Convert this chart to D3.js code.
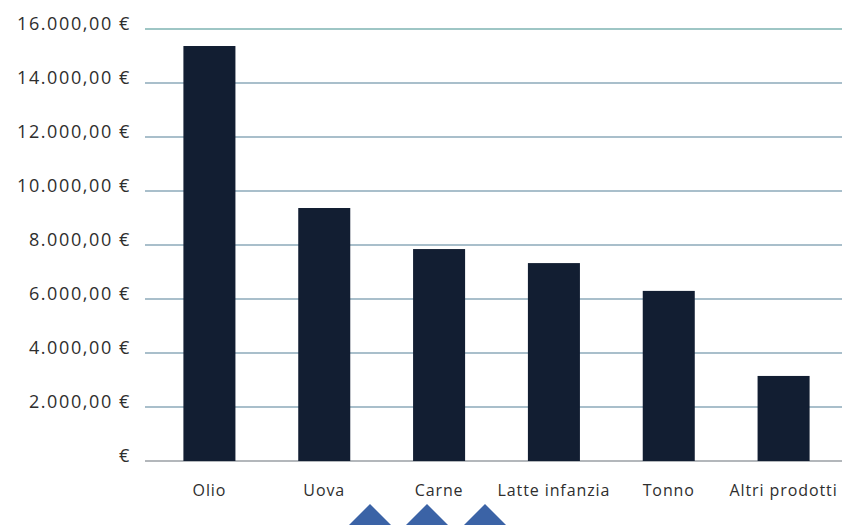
<!DOCTYPE html>
<html>
<head>
<meta charset="utf-8">
<script src="https://cdn.jsdelivr.net/npm/d3@7"></script>
<style>
  html, body { margin: 0; padding: 0; background: #fff; }
  svg { display: block; font-family: "Open Sans", sans-serif; }
</style>
</head>
<body>
<svg id="chart" width="842" height="525"></svg>
<script>
// Spending per product category (euro)
const categories = ["Olio", "Uova", "Carne", "Latte infanzia", "Tonno", "Altri prodotti"];
const values = [15370, 9370, 7850, 7330, 6300, 3150];
const yTicks = [0, 2000, 4000, 6000, 8000, 10000, 12000, 14000, 16000];
const yTickLabels = ["€", "2.000,00 €", "4.000,00 €", "6.000,00 €", "8.000,00 €",
  "10.000,00 €", "12.000,00 €", "14.000,00 €", "16.000,00 €"];
const markerCenters = [370, 427, 485];

const svg = d3.select("#chart");
const W = 842, H = 525;
const plot = { left: 145, right: 842, top: 29, bottom: 461 };

const x = d3.scaleBand()
  .domain(categories)
  .range([152, 841])
  .paddingInner(0.547)
  .paddingOuter(0.2735);

const y = d3.scaleLinear()
  .domain([0, 16000])
  .range([plot.bottom, plot.top]);

// gridlines
const gridColor = v => v === 0 ? "#b3b7bb" : (v === 16000 ? "#9ec6c5" : "#a9bfcb");
svg.append("g")
  .selectAll("line")
  .data(yTicks)
  .join("line")
  .attr("x1", plot.left)
  .attr("x2", plot.right)
  .attr("y1", d => y(d))
  .attr("y2", d => y(d))
  .attr("stroke", gridColor)
  .attr("stroke-width", 2);

// y labels
svg.append("g")
  .selectAll("text")
  .data(yTicks)
  .join("text")
  .attr("x", 131)
  .attr("y", d => y(d))
  .attr("dy", "0.05em")
  .attr("text-anchor", "end")
  .attr("font-size", 18)
  .attr("letter-spacing", 1.6)
  .attr("fill", "#2e2e2e")
  .text((d, i) => yTickLabels[i]);

// bars
svg.append("g")
  .selectAll("rect")
  .data(values)
  .join("rect")
  .attr("x", (d, i) => x(categories[i]))
  .attr("width", x.bandwidth())
  .attr("y", d => y(d))
  .attr("height", d => y(0) - y(d))
  .attr("fill", "#121e32");

// x labels
svg.append("g")
  .selectAll("text")
  .data(categories)
  .join("text")
  .attr("x", d => x(d) + x.bandwidth() / 2)
  .attr("y", 496)
  .attr("text-anchor", "middle")
  .attr("font-size", 16)
  .attr("letter-spacing", 0.9)
  .attr("fill", "#2e2e2e")
  .text(d => d);

// decorative triangles at the bottom edge
svg.append("g")
  .selectAll("path")
  .data(markerCenters)
  .join("path")
  .attr("d", cx => `M${cx - 22},${H + 1} L${cx},${504} L${cx + 22},${H + 1} Z`)
  .attr("fill", "#3b63a6");
</script>
</body>
</html>
